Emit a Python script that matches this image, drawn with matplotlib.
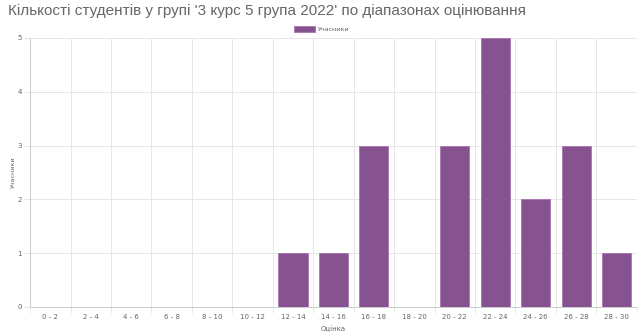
import matplotlib
matplotlib.use("Agg")
from matplotlib import pyplot as plt
import numpy as np

ranges = ['0 - 2', '2 - 4', '4 - 6', '6 - 8', '8 - 10', '10 - 12', '12 - 14', '14 - 16',
          '16 - 18', '18 - 20', '20 - 22', '22 - 24', '24 - 26', '26 - 28', '28 - 30']
students = [0, 0, 0, 0, 0, 0, 1, 1, 3, 0, 3, 5, 2, 3, 1]

bar_color = '#86528f'
text_color = '#666666'
grid_color = '#e6e6e6'

fig = plt.figure(figsize=(6.4, 3.35), dpi=100)
ax = fig.add_axes([0.047, 0.0836, 0.948, 0.803])

x = np.arange(len(ranges))
ax.bar(x, students, width=0.72, color=bar_color, edgecolor='#a874b0', linewidth=0.6,
       label='Учасники', zorder=3)

ax.set_xlim(-0.5, len(ranges) - 0.5)
ax.set_ylim(0, 5)
ax.set_yticks(range(6))
ax.set_xticks(x)
ax.set_xticklabels(ranges)
ax.set_xticks(np.arange(-0.5, len(ranges)), minor=True)
ax.tick_params(axis='x', which='major', length=0, labelsize=5, colors=text_color, pad=5)
ax.tick_params(axis='x', which='minor', length=4, color=grid_color)
ax.tick_params(axis='y', length=4, color=grid_color, labelsize=5, colors=text_color, pad=2)
ax.grid(True, which='minor', axis='x', color=grid_color, linewidth=0.7, zorder=0)
ax.grid(True, which='major', axis='y', color=grid_color, linewidth=0.7, zorder=0)
for s in ['top', 'right']:
    ax.spines[s].set_visible(False)
for s in ['left', 'bottom']:
    ax.spines[s].set_color('#cccccc')
    ax.spines[s].set_linewidth(0.7)

ax.set_xlabel('Оцінка', fontsize=5, color=text_color, labelpad=4)
ax.set_ylabel('Учасники', fontsize=4.6, color=text_color, labelpad=1)

fig.legend(*ax.get_legend_handles_labels(), loc='center', bbox_to_anchor=(0.503, 0.913),
           frameon=False, fontsize=4.6, labelcolor=text_color, handlelength=3.3,
           handleheight=0.9, handletextpad=0.5)

fig.text(0.012, 0.966, "Кількості студентів у групі '3 курс 5 група 2022' по діапазонах оцінювання",
         fontsize=11, color=text_color, va='center', ha='left',
         family=['Liberation Sans', 'DejaVu Sans'])

fig.savefig('out.png', dpi=100)
